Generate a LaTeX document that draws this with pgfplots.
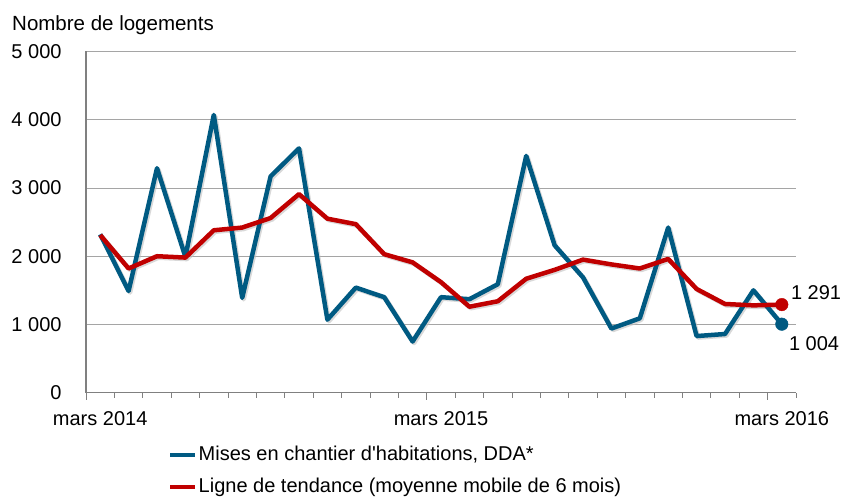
\documentclass[border=0pt]{standalone}
\usepackage{fontspec}
\setmainfont{Liberation Sans}
\usepackage{pgfplots}
\pgfplotsset{compat=1.18}
\definecolor{cblue}{RGB}{0,90,130}
\definecolor{cred}{RGB}{192,0,0}
\definecolor{cgrid}{RGB}{165,165,165}
\definecolor{caxis}{RGB}{128,128,128}
\begin{document}
\fontsize{20bp}{24bp}\selectfont
\begin{tikzpicture}
\useasboundingbox (0,0) rectangle (841bp,500bp);
\node[anchor=base west, inner sep=0pt] at (12bp,469.5bp) {\fontsize{20.5bp}{24bp}\selectfont Nombre de logements};
\begin{axis}[
  at={(86bp,107.3bp)}, anchor=south west,
  scale only axis, width=710bp, height=341.2bp,
  xmin=0, xmax=25, ymin=0, ymax=5000,
  clip=false,
  axis lines*=left,
  axis line style={caxis, line width=1.3bp},
  ymajorgrids, grid style={cgrid, line width=0.9bp},
  ytick={0,1000,2000,3000,4000,5000},
  yticklabels={0,1 000,2 000,3 000,4 000,5 000},
  ytick style={draw=none, /pgfplots/major tick length=0pt},
  yticklabel style={anchor=east, inner sep=0pt, xshift=-20bp},
  tick align=outside,
  xtick={0,12,24},
  xticklabels={mars 2014,mars 2015,mars 2016},
  xtick style={caxis, line width=1bp, /pgfplots/major tick length=7bp},
  minor xtick={0,...,25},
  minor x tick style={caxis, line width=1bp, /pgfplots/minor tick length=5bp},
  xticklabel style={anchor=north, inner sep=0pt, xshift=14.2bp, yshift=-14bp},
  legend style={at={(axis description cs:0.1155,-0.154)}, anchor=north west,
    draw=none, fill=none, inner sep=0pt, row sep=12.5bp,
    nodes={inner sep=1bp}, font=\fontsize{20bp}{24bp}\selectfont},
  legend cell align=left,
  legend image code/.code={\draw[#1, line width=4.5bp] (0bp,0bp) -- (25bp,0bp);},
]
% shadows
\addplot[black!25, line width=4.5bp, line join=round, opacity=0.6, xshift=1.5bp, yshift=-1.5bp, forget plot] coordinates {
(0.5,2320)(1.5,1490)(2.5,3290)(3.5,1990)(4.5,4070)(5.5,1390)(6.5,3170)(7.5,3580)(8.5,1070)(9.5,1540)(10.5,1400)(11.5,750)(12.5,1400)(13.5,1370)(14.5,1590)(15.5,3470)(16.5,2160)(17.5,1690)(18.5,940)(19.5,1090)(20.5,2420)(21.5,830)(22.5,860)(23.5,1500)(24.5,1004)};
\addplot[black!25, line width=4.5bp, line join=round, opacity=0.6, xshift=1.5bp, yshift=-1.5bp, forget plot] coordinates {
(0.5,2310)(1.5,1820)(2.5,2000)(3.5,1980)(4.5,2380)(5.5,2420)(6.5,2560)(7.5,2910)(8.5,2550)(9.5,2470)(10.5,2030)(11.5,1910)(12.5,1620)(13.5,1260)(14.5,1340)(15.5,1670)(16.5,1800)(17.5,1950)(18.5,1880)(19.5,1820)(20.5,1960)(21.5,1520)(22.5,1300)(23.5,1280)(24.5,1291)};
% blue
\addplot[cblue, line width=4.5bp, line join=round] coordinates {
(0.5,2320)(1.5,1490)(2.5,3290)(3.5,1990)(4.5,4070)(5.5,1390)(6.5,3170)(7.5,3580)(8.5,1070)(9.5,1540)(10.5,1400)(11.5,750)(12.5,1400)(13.5,1370)(14.5,1590)(15.5,3470)(16.5,2160)(17.5,1690)(18.5,940)(19.5,1090)(20.5,2420)(21.5,830)(22.5,860)(23.5,1500)(24.5,1004)};
\addlegendentry{Mises en chantier d\textquotesingle habitations, DDA*}
% red
\addplot[cred, line width=4.5bp, line join=round] coordinates {
(0.5,2310)(1.5,1820)(2.5,2000)(3.5,1980)(4.5,2380)(5.5,2420)(6.5,2560)(7.5,2910)(8.5,2550)(9.5,2470)(10.5,2030)(11.5,1910)(12.5,1620)(13.5,1260)(14.5,1340)(15.5,1670)(16.5,1800)(17.5,1950)(18.5,1880)(19.5,1820)(20.5,1960)(21.5,1520)(22.5,1300)(23.5,1280)(24.5,1291)};
\addlegendentry{Ligne de tendance (moyenne mobile de 6 mois)}
% end markers
\addplot[only marks, mark=*, mark size=6.3bp, cblue, forget plot,
  nodes near coords, point meta=explicit symbolic,
  nodes near coords style={anchor=west, inner sep=0pt, xshift=7bp, yshift=-19bp, text=black, font=\fontsize{20bp}{24bp}\selectfont}]
  coordinates {(24.5,1004) [1 004]};
\addplot[only marks, mark=*, mark size=6.3bp, cred, forget plot,
  nodes near coords, point meta=explicit symbolic,
  nodes near coords style={anchor=west, inner sep=0pt, xshift=9bp, yshift=12bp, text=black, font=\fontsize{20bp}{24bp}\selectfont}]
  coordinates {(24.5,1291) [1 291]};
\end{axis}
\end{tikzpicture}
\end{document}
